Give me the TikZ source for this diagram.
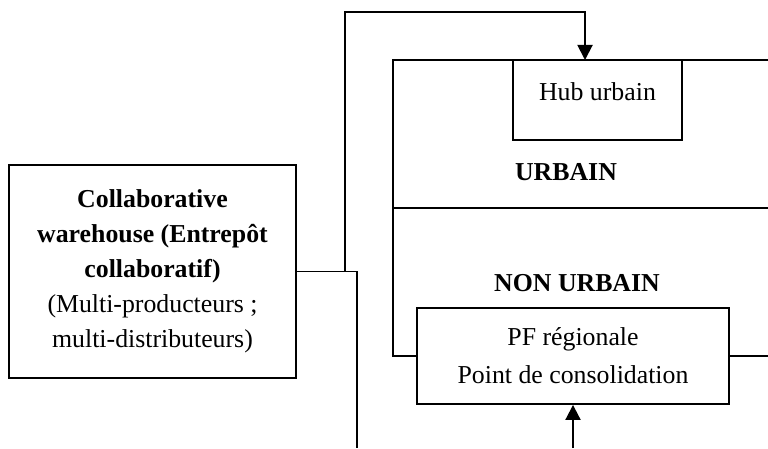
\documentclass[tikz,border=0pt]{standalone}
\usepackage{fontspec}
\setmainfont{Liberation Serif}
\usetikzlibrary{arrows.meta}

\begin{document}
\begin{tikzpicture}[
  x=0.465pt, y=-0.465pt,
  >={Triangle[length=7pt,width=7pt]},
  line width=0.9pt,
  box/.style = {draw, rectangle, inner sep=0pt, align=center,
    font=\fontsize{12}{16.3}\selectfont},
  zone/.style = {inner sep=0pt, font=\fontsize{12}{14}\selectfont\bfseries}
  ]
  \useasboundingbox (0,0) rectangle (768,448);
  % Boxes
  \node[box, minimum width=133.5pt, minimum height=99pt] (wh) at (152.5,271.5)
    {\textbf{Collaborative}\\ \textbf{warehouse (Entrepôt}\\ \textbf{collaboratif)}\\
     (Multi-producteurs ;\\ multi-distributeurs)};
  \node[box, text height=18.6pt, text depth=18.6pt, minimum width=78.6pt] (hub)
    at (597.5,100) {Hub urbain};
  \node[box, minimum width=145.1pt, minimum height=44.6pt,
    font=\fontsize{12}{17.6}\selectfont] (pf) at (573,356)
    {PF régionale\\ Point de consolidation};
  % Zones
  \node[zone] (urbain) at (566,172.5) {URBAIN};
  \node[zone] (nonurbain) at (577,283.5) {NON URBAIN};
  % Frame
  \coordinate (frame-nw) at (393,60);
  \coordinate (frame-ne) at (768,60);
  \coordinate (div-w) at (393,208);
  \coordinate (div-e) at (768,208);
  \draw (pf.west) -| (frame-nw) -- (frame-ne);
  \draw (div-w) -- (div-e);
  \draw (pf.east) -- (pf.east -| frame-ne);
  % Connectors
  \coordinate (out-s) at (357,448);
  \coordinate (split) at (345,12);
  \coordinate (hub-in) at (585,60);
  \coordinate (in-s) at (573,448);
  \draw (wh.east) -| (out-s);
  \draw[->] (wh.east -| split) -- (split) -| (hub-in);
  \draw[->] (in-s) -- (pf.south);
\end{tikzpicture}
\end{document}
